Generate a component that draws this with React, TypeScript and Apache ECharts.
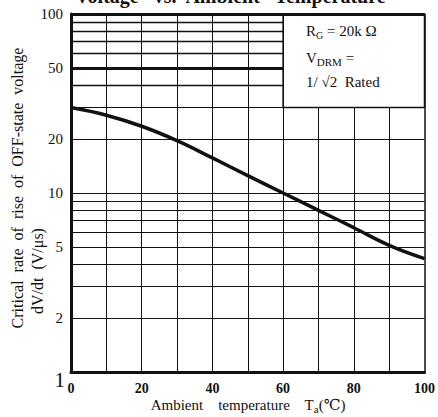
import React, { useEffect, useRef } from "react";
import * as echarts from "echarts";

const temps = [0, 10, 20, 30, 40, 50, 60, 70, 80, 90, 100];
const dvdt = [30, 27.2, 23.6, 19.6, 15.7, 12.5, 10, 8, 6.4, 5.1, 4.3];
const xTicks = [0, 20, 40, 60, 80, 100];
const yLabelValues = [2, 5, 10, 20, 50, 100];
const hLinesFull = [2, 3, 4, 5, 6, 7, 8, 9, 10, 20, 30];
const hLinesLeft = [40, 50, 60, 70, 80, 90];
const vLinesFull = [10, 20, 30, 40, 50, 60];
const vLinesLow = [70, 80, 90];
const boxArea = { x0: 60, y0: 30, x1: 100, y1: 100 };

const FONT = "Liberation Serif, DejaVu Serif, serif";
const INK = "#111";

export default function App() {
  const ref = useRef<HTMLDivElement>(null);
  useEffect(() => {
    if (!ref.current) return;
    const chart = echarts.init(ref.current, undefined, { renderer: "svg" });
    const thin = { color: INK, width: 1.2, type: "solid" as const };
    const lineData: any[] = [];
    hLinesFull.forEach((v) =>
      lineData.push([
        { xAxis: 0, yAxis: v, lineStyle: { ...thin } },
        { xAxis: 100, yAxis: v },
      ])
    );
    hLinesLeft.forEach((v) =>
      lineData.push([
        { xAxis: 0, yAxis: v, lineStyle: { ...thin, width: v === 50 ? 3 : 1.4 } },
        { xAxis: boxArea.x0, yAxis: v },
      ])
    );
    vLinesFull.forEach((v) =>
      lineData.push([
        { xAxis: v, yAxis: 1, lineStyle: { ...thin, width: 1 } },
        { xAxis: v, yAxis: 100 },
      ])
    );
    vLinesLow.forEach((v) =>
      lineData.push([
        { xAxis: v, yAxis: 1, lineStyle: { ...thin, width: 1 } },
        { xAxis: v, yAxis: boxArea.y0 },
      ])
    );
    lineData.push([
      { xAxis: 0, yAxis: 100, lineStyle: { color: INK, width: 3, type: "solid" } },
      { xAxis: 100, yAxis: 100 },
    ]);
    lineData.push([
      { xAxis: 100, yAxis: 1, lineStyle: { color: INK, width: 1.5, type: "solid" } },
      { xAxis: 100, yAxis: 100 },
    ]);
    yLabelValues.forEach((v) =>
      lineData.push([
        {
          xAxis: 0,
          yAxis: v,
          lineStyle: { color: "rgba(0,0,0,0)", width: 0, type: "solid" },
          label: {
            show: true,
            position: "start",
            distance: 8,
            formatter: String(v),
            fontFamily: FONT,
            fontSize: 15,
            color: INK,
          },
        },
        { xAxis: 1, yAxis: v },
      ])
    );
    lineData.push([
      {
        xAxis: 0,
        yAxis: 1,
        lineStyle: { color: "rgba(0,0,0,0)", width: 0, type: "solid" },
        label: {
          show: true,
          position: "start",
          distance: 6,
          formatter: "\n1",
          fontFamily: FONT,
          fontSize: 21,
          lineHeight: 16,
          color: INK,
        },
      },
      { xAxis: 1, yAxis: 1 },
    ]);

    chart.setOption({
      animation: false,
      backgroundColor: "#fff",
      grid: { left: 71, right: 12, top: 14, bottom: 45, containLabel: false },
      xAxis: {
        type: "value",
        min: 0,
        max: 100,
        interval: 20,
        axisLine: { show: true, lineStyle: { color: INK, width: 3 } },
        axisTick: { show: false },
        splitLine: { show: false },
        axisLabel: {
          margin: 9,
          fontFamily: FONT,
          fontSize: 14,
          fontWeight: "bold",
          color: INK,
          formatter: (v: number) => (xTicks.includes(v) ? String(v) : ""),
        },
      },
      yAxis: {
        type: "log",
        logBase: 10,
        min: 1,
        max: 100,
        axisLine: { show: true, lineStyle: { color: INK, width: 3 } },
        axisTick: { show: false },
        splitLine: { show: false },
        axisLabel: { show: false },
      },
      series: [
        {
          type: "line",
          data: [],
          z: 1,
          silent: true,
          markLine: {
            silent: true,
            symbol: "none",
            label: { show: false },
            lineStyle: { type: "solid", color: INK },
            data: lineData,
          },
          markArea: {
            silent: true,
            itemStyle: { color: "#fff", borderColor: INK, borderWidth: 1.5 },
            data: [
              [
                { xAxis: boxArea.x0, yAxis: boxArea.y0 },
                { xAxis: boxArea.x1, yAxis: boxArea.y1 },
              ],
            ],
          },
        },
        {
          type: "line",
          z: 5,
          smooth: 0.4,
          symbol: "none",
          data: temps.map((t, i) => [t, dvdt[i]]),
          lineStyle: { color: INK, width: 3.5 },
        },
      ],
      graphic: [
        {
          type: "text",
          z: 100,
          x: 75,
          y: 6,
          style: {
            text: "Voltage   vs.  Ambient   Temperature",
            fontFamily: FONT,
            fontSize: 20,
            fontWeight: "bold",
            fill: INK,
            verticalAlign: "bottom",
          },
        },
        {
          type: "text",
          z: 100,
          x: 306,
          y: 31,
          style: {
            text: "{m|R}{s|G}{m| = 20k Ω}",
            verticalAlign: "middle",
            rich: {
              m: { fontFamily: FONT, fontSize: 15, fill: INK, lineHeight: 18 },
              s: { fontFamily: FONT, fontSize: 10, fill: INK, verticalAlign: "bottom", lineHeight: 11 },
            },
          },
        },
        {
          type: "text",
          z: 100,
          x: 306,
          y: 58,
          style: {
            text: "{m|V}{s|DRM}{m| =}",
            verticalAlign: "middle",
            rich: {
              m: { fontFamily: FONT, fontSize: 15, fill: INK, lineHeight: 18 },
              s: { fontFamily: FONT, fontSize: 11, fill: INK, verticalAlign: "bottom", lineHeight: 12 },
            },
          },
        },
        {
          type: "text",
          z: 100,
          x: 306,
          y: 82,
          style: {
            text: "1/ √2  Rated",
            fontFamily: FONT,
            fontSize: 15,
            fill: INK,
            verticalAlign: "middle",
          },
        },
        {
          type: "text",
          z: 100,
          x: 248,
          y: 405,
          style: {
            text: "{m|Ambient    temperature    T}{s|a}{m|(℃)}",
            align: "center",
            verticalAlign: "middle",
            rich: {
              m: { fontFamily: FONT, fontSize: 15, fill: INK, lineHeight: 18 },
              s: { fontFamily: FONT, fontSize: 11, fill: INK, verticalAlign: "bottom", lineHeight: 11 },
            },
          },
        },
        {
          type: "text",
          z: 100,
          x: 17,
          y: 188,
          rotation: Math.PI / 2,
          style: {
            text: "Critical  rate  of  rise  of  OFF-state  voltage",
            fontFamily: FONT,
            fontSize: 16,
            fill: INK,
            align: "center",
            verticalAlign: "middle",
          },
        },
        {
          type: "text",
          z: 100,
          x: 37,
          y: 271,
          rotation: Math.PI / 2,
          style: {
            text: "dV/dt  (V/μs)",
            fontFamily: FONT,
            fontSize: 16,
            fill: INK,
            align: "center",
            verticalAlign: "middle",
          },
        },
      ],
    });
    return () => chart.dispose();
  }, []);
  return (
    <div
      ref={ref}
      style={{ position: "fixed", left: 0, top: 0, width: 438, height: 417 }}
    />
  );
}
